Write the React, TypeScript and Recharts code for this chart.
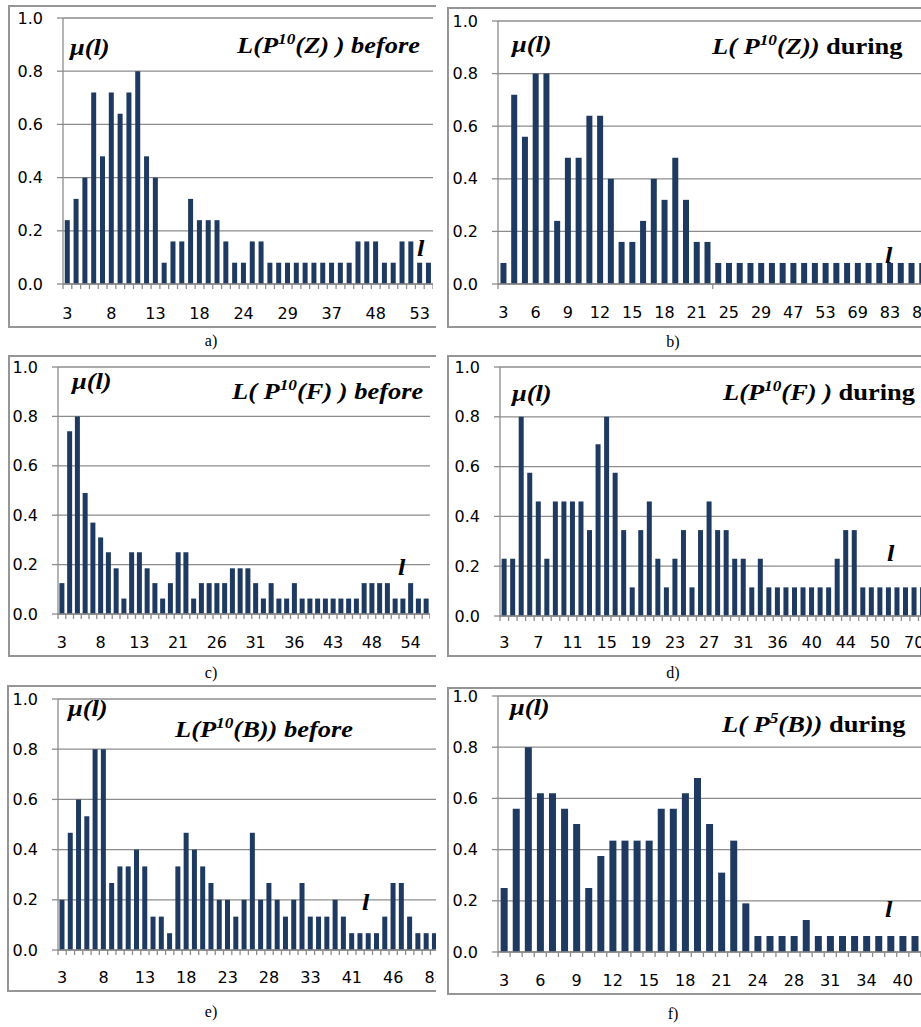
import React from 'react';
import { BarChart, Bar, XAxis, YAxis, CartesianGrid } from 'recharts';

// ---------- data ----------
const yTicks = [0, 0.2, 0.4, 0.6, 0.8, 1.0];

const aLabels = [3, 4, 5, 6, 7, 8, 9, 10, 11, 12, 13, 14, 15, 16, 17, 18, 19, 20, 21, 23, 24, 25, 26, 27, 28, 29, 30, 31, 33, 35, 37, 38, 40, 42, 45, 48, 49, 50, 51, 52, 53, 54];
const aValues = [0.24, 0.32, 0.40, 0.72, 0.48, 0.72, 0.64, 0.72, 0.80, 0.48, 0.40, 0.08, 0.16, 0.16, 0.32, 0.24, 0.24, 0.24, 0.16, 0.08, 0.08, 0.16, 0.16, 0.08, 0.08, 0.08, 0.08, 0.08, 0.08, 0.08, 0.08, 0.08, 0.08, 0.16, 0.16, 0.16, 0.08, 0.08, 0.16, 0.16, 0.08, 0.08];

const bLabels = [3, 4, 5, 6, 7, 8, 9, 10, 11, 12, 13, 14, 15, 16, 17, 18, 19, 20, 21, 22, 23, 25, 26, 27, 29, 31, 40, 47, 49, 51, 53, 58, 63, 69, 73, 78, 83, 85, 87, 89, 91, 95];
const bValues = [0.08, 0.72, 0.56, 0.80, 0.80, 0.24, 0.48, 0.48, 0.64, 0.64, 0.40, 0.16, 0.16, 0.24, 0.40, 0.32, 0.48, 0.32, 0.16, 0.16, 0.08, 0.08, 0.08, 0.08, 0.08, 0.08, 0.08, 0.08, 0.08, 0.08, 0.08, 0.08, 0.08, 0.08, 0.08, 0.08, 0.08, 0.08, 0.08, 0.08, 0.08, 0.08];

const cLabels = [3, 4, 5, 6, 7, 8, 9, 10, 11, 12, 13, 14, 15, 17, 19, 21, 22, 23, 24, 25, 26, 27, 28, 29, 30, 31, 32, 33, 34, 35, 36, 38, 39, 40, 42, 43, 44, 45, 46, 47, 48, 49, 50, 51, 53, 54, 55, 56];
const cValues = [0.125, 0.74, 0.80, 0.49, 0.37, 0.31, 0.25, 0.185, 0.0625, 0.25, 0.25, 0.185, 0.125, 0.0625, 0.125, 0.25, 0.25, 0.0625, 0.125, 0.125, 0.125, 0.125, 0.185, 0.185, 0.185, 0.125, 0.0625, 0.125, 0.0625, 0.0625, 0.125, 0.0625, 0.0625, 0.0625, 0.0625, 0.0625, 0.0625, 0.0625, 0.0625, 0.125, 0.125, 0.125, 0.125, 0.0625, 0.0625, 0.125, 0.0625, 0.0625];

const dLabels = [3, 4, 5, 6, 7, 8, 9, 10, 11, 12, 13, 14, 15, 16, 17, 18, 19, 20, 21, 22, 23, 24, 25, 26, 27, 28, 29, 30, 31, 32, 33, 35, 36, 37, 38, 39, 40, 41, 42, 43, 44, 45, 46, 48, 50, 52, 55, 60, 70, 75];
const dValues = [0.23, 0.23, 0.80, 0.575, 0.46, 0.23, 0.46, 0.46, 0.46, 0.46, 0.345, 0.69, 0.80, 0.575, 0.345, 0.115, 0.345, 0.46, 0.23, 0.115, 0.23, 0.345, 0.115, 0.345, 0.46, 0.345, 0.345, 0.23, 0.23, 0.115, 0.23, 0.115, 0.115, 0.115, 0.115, 0.115, 0.115, 0.115, 0.115, 0.23, 0.345, 0.345, 0.115, 0.115, 0.115, 0.115, 0.115, 0.115, 0.115, 0.115];

const eLabels = [3, 4, 5, 6, 7, 8, 9, 10, 11, 12, 13, 14, 15, 16, 17, 18, 19, 20, 21, 22, 23, 24, 25, 26, 27, 28, 29, 30, 31, 32, 33, 34, 35, 37, 39, 41, 42, 43, 44, 45, 46, 50, 60, 70, 80, 85, 90];
const eValues = [0.2, 0.467, 0.6, 0.533, 0.8, 0.8, 0.267, 0.333, 0.333, 0.4, 0.333, 0.133, 0.133, 0.067, 0.333, 0.467, 0.4, 0.333, 0.267, 0.2, 0.2, 0.133, 0.2, 0.467, 0.2, 0.267, 0.2, 0.133, 0.2, 0.267, 0.133, 0.133, 0.133, 0.2, 0.133, 0.067, 0.067, 0.067, 0.067, 0.133, 0.267, 0.267, 0.133, 0.067, 0.067, 0.067, 0.067];

const fLabels = [3, 4, 5, 6, 7, 8, 9, 10, 11, 12, 13, 14, 15, 16, 17, 18, 19, 20, 21, 22, 23, 24, 25, 27, 28, 29, 30, 31, 32, 33, 34, 36, 38, 40, 42, 45];
const fValues = [0.25, 0.56, 0.80, 0.62, 0.62, 0.56, 0.50, 0.25, 0.375, 0.435, 0.435, 0.435, 0.435, 0.56, 0.56, 0.62, 0.68, 0.50, 0.31, 0.435, 0.19, 0.0625, 0.0625, 0.0625, 0.0625, 0.125, 0.0625, 0.0625, 0.0625, 0.0625, 0.0625, 0.0625, 0.0625, 0.0625, 0.0625, 0.0625];

// ---------- styles ----------
const BAR = '#1f3a60';
const GRID = '#8c8c8c';
const TICK_FONT = 'DejaVu Sans';
const SERIF = 'Liberation Serif, Times New Roman, serif';

type Geo = {
  clipX: number; clipY: number; clipW: number; clipH: number;
  frameTop: number; frameBottom: number;
  plotLeft: number; plotRight: number; plotTop: number; plotBottom: number;
  gap: string; tickEvery: number; labelEvery: number; labelDy: number;
};

const geoA: Geo = { clipX: 8, clipY: 4, clipW: 428, clipH: 326, frameTop: 5, frameBottom: 328, plotLeft: 63, plotRight: 433, plotTop: 18, plotBottom: 284, gap: '20%', tickEvery: 1, labelEvery: 5, labelDy: 29 };
const geoB: Geo = { clipX: 447, clipY: 6, clipW: 474, clipH: 324, frameTop: 7, frameBottom: 328, plotLeft: 498, plotRight: 949, plotTop: 21, plotBottom: 284, gap: '23%', tickEvery: 20, labelEvery: 3, labelDy: 28 };
const geoC: Geo = { clipX: 8, clipY: 354, clipW: 428, clipH: 305, frameTop: 355, frameBottom: 657, plotLeft: 58, plotRight: 430, plotTop: 367, plotBottom: 614, gap: '18%', tickEvery: 1, labelEvery: 5, labelDy: 28 };
const geoD: Geo = { clipX: 447, clipY: 354, clipW: 474, clipH: 305, frameTop: 355, frameBottom: 657, plotLeft: 500, plotRight: 927, plotTop: 367, plotBottom: 616, gap: '19%', tickEvery: 1, labelEvery: 4, labelDy: 26 };
const geoE: Geo = { clipX: 7, clipY: 684, clipW: 429, clipH: 310, frameTop: 685, frameBottom: 992, plotLeft: 58, plotRight: 447, plotTop: 699, plotBottom: 950, gap: '18%', tickEvery: 1, labelEvery: 5, labelDy: 27 };
const geoF: Geo = { clipX: 447, clipY: 686, clipW: 474, clipH: 311, frameTop: 687, frameBottom: 995, plotLeft: 498, plotRight: 933, plotTop: 696, plotBottom: 952, gap: '22%', tickEvery: 1, labelEvery: 3, labelDy: 28 };

function XTick(p: any) {
  const { x, y, payload, every, n, half, labelEvery, labelDy } = p;
  const i = payload.index;
  const off = typeof payload.offset === 'number' && payload.offset > 0 ? payload.offset : half;
  return (
    <g>
      {i % every === 0 ? <line x1={x - off} x2={x - off} y1={y} y2={y + 5} stroke={GRID} strokeWidth={1.3} /> : null}
      {i === n - 1 ? <line x1={x + off} x2={x + off} y1={y} y2={y + 5} stroke={GRID} strokeWidth={1.3} /> : null}
      {i % labelEvery === 0 ? (
        <text x={x} y={y + labelDy} textAnchor="middle" dominantBaseline="central" fontSize={16} fontFamily={TICK_FONT} fill="#000">
          {payload.value}
        </text>
      ) : null}
    </g>
  );
}

function Panel({ labels, values, geo }: { labels: number[]; values: number[]; geo: Geo }) {
  const data = labels.map((l, i) => ({ l: String(l), v: values[i] }));
  const n = values.length;
  const yW = geo.plotLeft - geo.clipX;
  const chartW = geo.plotRight - geo.clipX;
  const mTop = geo.plotTop - geo.clipY;
  const xH = 40;
  const chartH = geo.plotBottom - geo.clipY + xH;
  const half = (geo.plotRight - geo.plotLeft) / n / 2;
  return (
    <div style={{ position: 'absolute', left: geo.clipX, top: geo.clipY, width: geo.clipW, height: geo.clipH, overflow: 'hidden' }}>
      <div
        style={{
          position: 'absolute', left: 0, top: geo.frameTop - geo.clipY,
          width: geo.clipW + 80, height: geo.frameBottom - geo.frameTop,
          border: '2px solid #969696', boxSizing: 'border-box',
        }}
      />
      <div style={{ position: 'absolute', left: 0, top: 0 }}>
        <BarChart width={chartW} height={chartH} data={data} margin={{ top: mTop, right: 0, bottom: 0, left: 0 }} barCategoryGap={geo.gap}>
          <CartesianGrid vertical={false} stroke={GRID} strokeWidth={1.3} />
          <XAxis
            dataKey="l"
            interval={0}
            tickLine={false}
            tickSize={0}
            tickMargin={0}
            height={xH}
            axisLine={{ stroke: GRID, strokeWidth: 1.3 }}
            tick={(tp: any) => <XTick {...tp} every={geo.tickEvery} n={n} half={half} labelEvery={geo.labelEvery} labelDy={geo.labelDy} />}
          />
          <YAxis
            type="number"
            domain={[0, 1]}
            ticks={yTicks}
            interval={0}
            width={yW}
            tickSize={6}
            tickMargin={14}
            tickLine={{ stroke: GRID, strokeWidth: 1.3 }}
            axisLine={{ stroke: GRID, strokeWidth: 1.3 }}
            tick={{ fill: '#000', fontSize: 16, fontFamily: TICK_FONT }}
            tickFormatter={(v: number) => v.toFixed(1)}
          />
          <Bar dataKey="v" fill={BAR} isAnimationActive={false} />
        </BarChart>
      </div>
    </div>
  );
}

function Title({ x, y, pre, sup, post, tail }: { x: number; y: number; pre: string; sup: string; post: string; tail?: string }) {
  return (
    <text transform={`translate(${x},${y}) scale(1.15,1)`} fontFamily={SERIF} fontSize={23} fontWeight="bold" fill="#000">
      <tspan fontStyle="italic">{pre}</tspan>
      <tspan fontStyle="italic" fontSize={15} dy={-9}>{sup}</tspan>
      <tspan fontStyle="italic" dy={9}>{post}</tspan>
      {tail ? <tspan fontStyle="normal">{tail}</tspan> : null}
    </text>
  );
}

function Mu({ x, y }: { x: number; y: number }) {
  return (
    <text transform={`translate(${x},${y}) scale(1.15,1)`} fontFamily={SERIF} fontSize={23} fontWeight="bold" fontStyle="italic" fill="#000">
      μ(l)
    </text>
  );
}

function Ell({ x, y }: { x: number; y: number }) {
  return (
    <text transform={`translate(${x},${y}) scale(1.15,1)`} fontFamily={SERIF} fontSize={23} fontWeight="bold" fontStyle="italic" fill="#000">
      l
    </text>
  );
}

function Cap({ x, y, t }: { x: number; y: number; t: string }) {
  return (
    <text x={x} y={y} textAnchor="middle" fontFamily={SERIF} fontSize={16} fill="#000">
      {t}
    </text>
  );
}

export default function App() {
  return (
    <div style={{ position: 'absolute', left: 0, top: 0, width: 921, height: 1027, overflow: 'hidden', background: '#fff' }}>
      <Panel labels={aLabels} values={aValues} geo={geoA} />
      <Panel labels={bLabels} values={bValues} geo={geoB} />
      <Panel labels={cLabels} values={cValues} geo={geoC} />
      <Panel labels={dLabels} values={dValues} geo={geoD} />
      <Panel labels={eLabels} values={eValues} geo={geoE} />
      <Panel labels={fLabels} values={fValues} geo={geoF} />
      <svg width={921} height={1027} style={{ position: 'absolute', left: 0, top: 0, pointerEvents: 'none' }}>
        <Title x={237} y={53} pre="L(P" sup="10" post="(Z) ) before" />
        <Title x={712} y={54} pre="L( P" sup="10" post="(Z))" tail=" during" />
        <Title x={232} y={399} pre="L( P" sup="10" post="(F) ) before" />
        <Title x={723} y={400} pre="L(P" sup="10" post="(F) )" tail=" during" />
        <Title x={175} y={737} pre="L(P" sup="10" post="(B)) before" />
        <Title x={722} y={732} pre="L( P" sup="5" post="(B))" tail=" during" />

        <Mu x={70} y={55} />
        <Mu x={512} y={52} />
        <Mu x={72} y={389} />
        <Mu x={512} y={401} />
        <Mu x={68} y={716} />
        <Mu x={510} y={715} />

        <Ell x={417} y={256} />
        <Ell x={885} y={263} />
        <Ell x={398} y={575} />
        <Ell x={887} y={561} />
        <Ell x={362} y={910} />
        <Ell x={885} y={917} />

        <Cap x={211} y={346} t="a)" />
        <Cap x={673} y={347} t="b)" />
        <Cap x={211} y={678} t="c)" />
        <Cap x={673} y={678} t="d)" />
        <Cap x={211} y={1017} t="e)" />
        <Cap x={673} y={1019} t="f)" />
      </svg>
    </div>
  );
}
